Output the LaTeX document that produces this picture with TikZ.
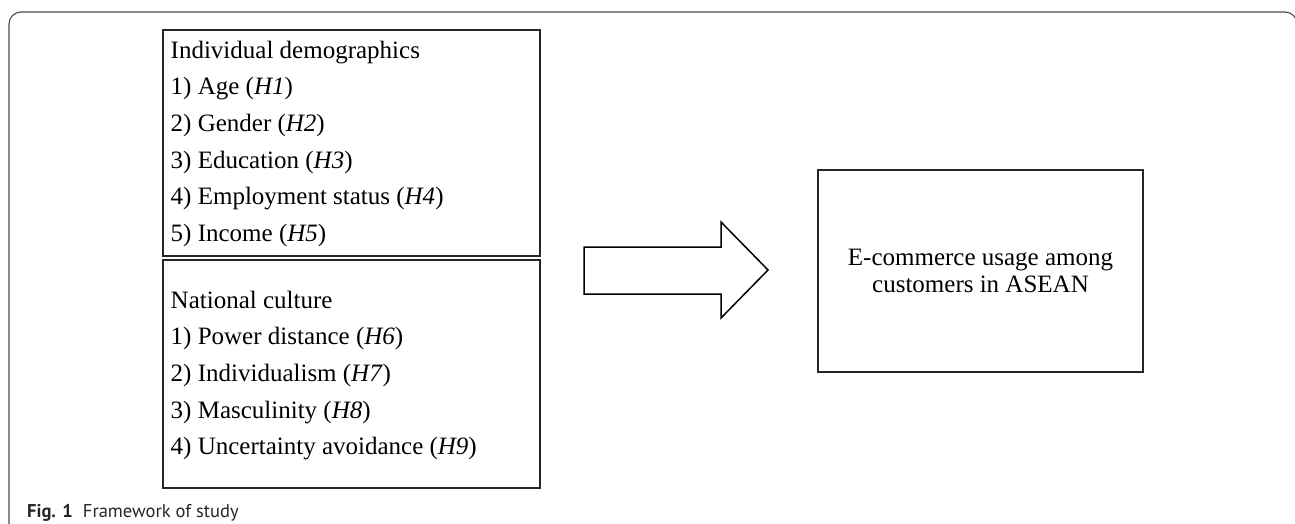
\documentclass[tikz,border=0pt]{standalone}
\usepackage{fontspec}
\setmainfont{Liberation Serif}
\newfontfamily\capfont{PT Sans}
\begin{document}
\begin{tikzpicture}[x=1pt,y=-1pt,
  framestyle/.style={draw=black!70, line width=1.1pt},
  boxstyle/.style={draw=black!85, line width=2pt, inner sep=0pt, anchor=north west},
  linetext/.style={anchor=base west, inner sep=0pt, font=\fontsize{25}{30}\selectfont},
  arrowstyle/.style={draw=black, line width=1.5pt, line join=miter, fill=white}]
\useasboundingbox (0,0) rectangle (1295,523);
% outer frame
\draw[framestyle, rounded corners=12pt] (9,540) -- (9,12) -- (1297,12) -- (1297,540);
% left boxes
\node[boxstyle, minimum width=377pt, minimum height=226pt] (demo) at (162.3,29.3) {};
\node[boxstyle, minimum width=377pt, minimum height=228pt] (cult) at (162.3,259.3) {};
% top box text
\node[linetext] (d0) at (170.5,58.3) {Individual demographics};
\node[linetext] (d1) at (170.5,94.9) {1) Age (\textit{H1})};
\node[linetext] (d2) at (170.5,131.5) {2) Gender (\textit{H2})};
\node[linetext] (d3) at (170.5,168.1) {3) Education (\textit{H3})};
\node[linetext] (d4) at (170.5,204.7) {4) Employment status (\textit{H4})};
\node[linetext] (d5) at (170.5,241.3) {5) Income (\textit{H5})};
% bottom box text
\node[linetext] (c0) at (170.5,308.3) {National culture};
\node[linetext] (c1) at (170.5,344.9) {1) Power distance (\textit{H6})};
\node[linetext] (c2) at (170.5,381.5) {2) Individualism (\textit{H7})};
\node[linetext] (c3) at (170.5,418.1) {3) Masculinity (\textit{H8})};
\node[linetext] (c4) at (170.5,454.7) {4) Uncertainty avoidance (\textit{H9})};
% block arrow
\draw[arrowstyle] (584,247) -- (721,247) -- (721,222) -- (768,270) -- (721,318) -- (721,294) -- (584,294) -- cycle;
% right box
\node[draw=black!85, line width=2pt, inner sep=0pt, minimum width=325pt, minimum height=202pt,
      align=center, font=\fontsize{25}{26.5}\selectfont] (ec) at (980.5,271)
      {E-commerce usage among\\customers in ASEAN};
% caption
\node[anchor=base west, inner sep=0pt, font=\capfont\fontsize{18.5}{21}\selectfont, text=black!85] (cap) at (27,517.5)
  {\textbf{Fig. 1}\hspace{0.55em}Framework of study};
\end{tikzpicture}
\end{document}
